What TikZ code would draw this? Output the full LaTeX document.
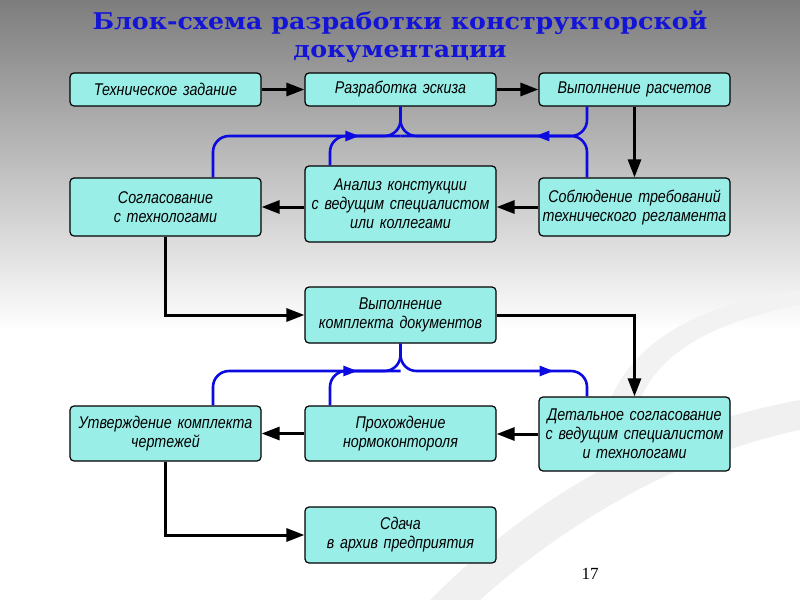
\documentclass[tikz,border=0pt]{standalone}
\usepackage{fontspec}
\setmainfont{Liberation Serif}
\newfontfamily\blokfont{Liberation Sans}[FakeStretch=0.84]
\newfontfamily\zagfont{DejaVu Serif}[FakeStretch=1.1]
\usetikzlibrary{arrows.meta,decorations.markings}

\definecolor{blokfill}{RGB}{153,238,232}
\definecolor{titleblue}{RGB}{20,20,215}
\definecolor{lineblue}{RGB}{10,10,225}
\definecolor{bgtop}{RGB}{125,125,125}

\tikzset{
	blok/.style={draw=black, line width=1.2pt, fill=blokfill, rounded corners=4pt,
		minimum width=191pt, text width=185pt, inner sep=2pt, align=center,
		font=\blokfont\itshape\fontsize{17}{19}\selectfont},
	strelka/.style={line width=3pt, -{Triangle[length=18pt,width=13pt]}},
	sinlin/.style={draw=lineblue, line width=2.6pt, rounded corners=16pt},
	sinmark/.style={postaction={decorate}, decoration={markings,
		mark=at position #1 with {\arrow[lineblue]{Triangle[length=14pt,width=10pt]}}}}
}

\begin{document}
\begin{tikzpicture}[x=1pt, y=-1pt]
		%%%%% START %%%%%
		\useasboundingbox (0,0) rectangle (800,600);
		
		\shade[top color=bgtop, bottom color=white] (0,0) rectangle (800,330);
		\fill[white] (0,329) rectangle (800,600);
		\fill[gray!12] (430,600) .. controls (560,470) and (690,420) .. (800,400) -- (800,430) .. controls (700,450) and (580,510) .. (480,600) -- cycle;
		\fill[gray!10] (610,400) .. controls (640,330) and (720,300) .. (800,290) -- (800,305) .. controls (720,320) and (660,350) .. (640,400) -- cycle;
		
		\node[font=\zagfont\bfseries\fontsize{23}{28}\selectfont, text=titleblue, align=center] (zag) at (400,37) {Блок-схема разработки конструкторской\\документации};
		
		\node[blok, minimum height=33pt] (tz) at (165.5,89.5) {Техническое задание};
		\node[blok, minimum height=33pt] (re) at (400.5,89.5) {Разработка эскиза};
		\node[blok, minimum height=33pt] (vr) at (634.5,89.5) {Выполнение расчетов};
		
		\node[blok, minimum height=58pt] (sg) at (165.5,207) {Согласование\\с технологами};
		\node[blok, minimum height=76pt] (an) at (400.5,204) {Анализ констукции\\с ведущим специалистом\\или коллегами};
		\node[blok, minimum height=58pt] (sb) at (634.5,207) {Соблюдение требований\\технического регламента};
		
		\node[blok, minimum height=56pt] (vk) at (400.5,315) {Выполнение\\комплекта документов};
		
		\node[blok, minimum height=55pt] (ut) at (165.5,433.5) {Утверждение комплекта\\чертежей};
		\node[blok, minimum height=55pt] (pr) at (400.5,433.5) {Прохождение\\нормоконтороля};
		\node[blok, minimum height=74pt] (dt) at (634.5,434) {Детальное согласование\\с ведущим специалистом\\и технологами};
		
		\node[blok, minimum height=56pt] (sd) at (400.5,535) {Сдача\\в архив предприятия};
		
		\node[font=\fontsize{17}{17}\selectfont] (nomer) at (590,574) {17};
		
		\coordinate (hubA) at (400.5,136);
		\coordinate (hubB) at (400.5,371);
		
		% blue
		\draw[sinlin, sinmark=0.74] ([xshift=47.5pt]sg.north) |- (hubA) -- (re.south);
		\draw[sinlin, sinmark=0.32] ([xshift=-47.5pt]vr.south) |- (hubA) -- (re.south);
		\draw[sinlin] ([xshift=-70.5pt]an.north) |- (hubA);
		\draw[sinlin] ([xshift=-47.5pt]sb.north) |- (hubA);
		
		\draw[sinlin, sinmark=0.73] ([xshift=47.5pt]ut.north) |- (hubB) -- (vk.south);
		\draw[sinlin] ([xshift=-70.5pt]pr.north) |- (hubB);
		\draw[sinlin, sinmark=0.77] (vk.south) -- (hubB) -| ([xshift=-47.5pt]dt.north);
		
		% black
		\draw[strelka] (tz.east) -- (re.west);
		\draw[strelka] (re.east) -- (vr.west);
		\draw[strelka] (vr.south) -- (sb.north);
		\draw[strelka] (sb.west) -- (sb.west -| an.east);
		\draw[strelka] (sg.east -| an.west) -- (sg.east);
		\draw[strelka] (sg.south) |- (vk.west);
		\draw[strelka] (vk.east) -| (dt.north);
		\draw[strelka] (dt.west) -- (dt.west -| pr.east);
		\draw[strelka] (pr.west) -- (ut.east);
		\draw[strelka] (ut.south) |- (sd.west);
		
		%%%%% END %%%%%
	\end{tikzpicture}
\end{document}
